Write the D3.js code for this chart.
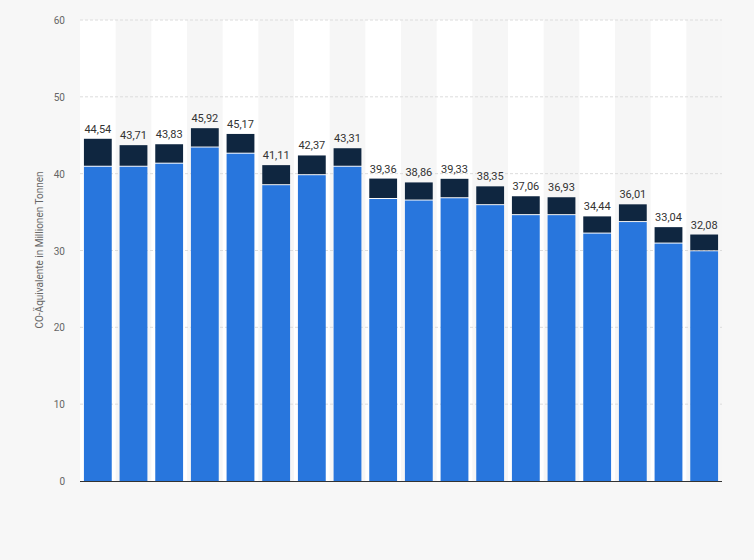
<!DOCTYPE html><html><head><meta charset="utf-8"><script src="https://cdn.jsdelivr.net/npm/d3@7"></script>
<style>body{margin:0;background:#f7f7f7}</style></head><body><svg id="c" width="754" height="560"></svg><script>
const categories=d3.range(18).map(i=>"B"+(i+1));
const totals=[44.54,43.71,43.83,45.92,45.17,41.11,42.37,43.31,39.36,38.86,39.33,38.35,37.06,36.93,34.44,36.01,33.04,32.08];
const lower=[40.9,40.9,41.3,43.4,42.6,38.5,39.8,40.9,36.7,36.5,36.8,35.9,34.6,34.6,32.2,33.7,30.9,29.9];
const yTicks=[0,10,20,30,40,50,60];
const svg=d3.select("#c");
const x=d3.scaleBand().domain(categories).range([80,722]).paddingInner(0.22).paddingOuter(0.11);
const y=d3.scaleLinear().domain([0,60]).range([481,20]);
svg.append("rect").attr("x",80).attr("y",20).attr("width",642).attr("height",461).attr("fill","#ffffff");
const step=x.step();
svg.selectAll(".band").data(categories.filter((d,i)=>i%2==1)).join("rect")
 .attr("x",d=>x(d)-step*x.paddingInner()/2).attr("width",step).attr("y",20).attr("height",461).attr("fill","#f6f6f6");
svg.selectAll(".g").data(yTicks.slice(1)).join("line").attr("x1",80).attr("x2",722)
 .attr("y1",d=>y(d)).attr("y2",d=>y(d)).attr("stroke","#dcdcdc").attr("stroke-dasharray","3,2");
svg.append("line").attr("x1",80).attr("x2",722).attr("y1",481.5).attr("y2",481.5).attr("stroke","#333");
svg.selectAll(".t").data(yTicks).join("text").attr("x",65).attr("y",d=>y(d)+4).attr("text-anchor","end")
 .attr("font-family","Roboto,Arial").attr("font-size",10).attr("fill","#666").text(d=>d);
svg.append("text").attr("transform","translate(43,250) rotate(-90)").attr("text-anchor","middle")
 .attr("font-family","Roboto,Arial").attr("font-size",10).attr("fill","#666").text("CO-Äquivalente in Millionen Tonnen");
svg.selectAll(".lo").data(categories).join("rect").attr("x",d=>x(d)).attr("width",x.bandwidth())
 .attr("y",(d,i)=>y(lower[i])).attr("height",(d,i)=>y(0)-y(lower[i])).attr("fill","#2876dd");
svg.selectAll(".hi").data(categories).join("rect").attr("x",d=>x(d)).attr("width",x.bandwidth())
 .attr("y",(d,i)=>y(totals[i])).attr("height",(d,i)=>y(lower[i])-y(totals[i])-1).attr("fill","#0f2640");
svg.selectAll(".lb").data(categories).join("text").attr("x",d=>x(d)+x.bandwidth()/2).attr("y",(d,i)=>y(totals[i])-6)
 .attr("text-anchor","middle").attr("font-family","Roboto,Arial").attr("font-size",11).attr("fill","#333")
 .text((d,i)=>totals[i].toFixed(2).replace(".",","));
</script></body></html>
